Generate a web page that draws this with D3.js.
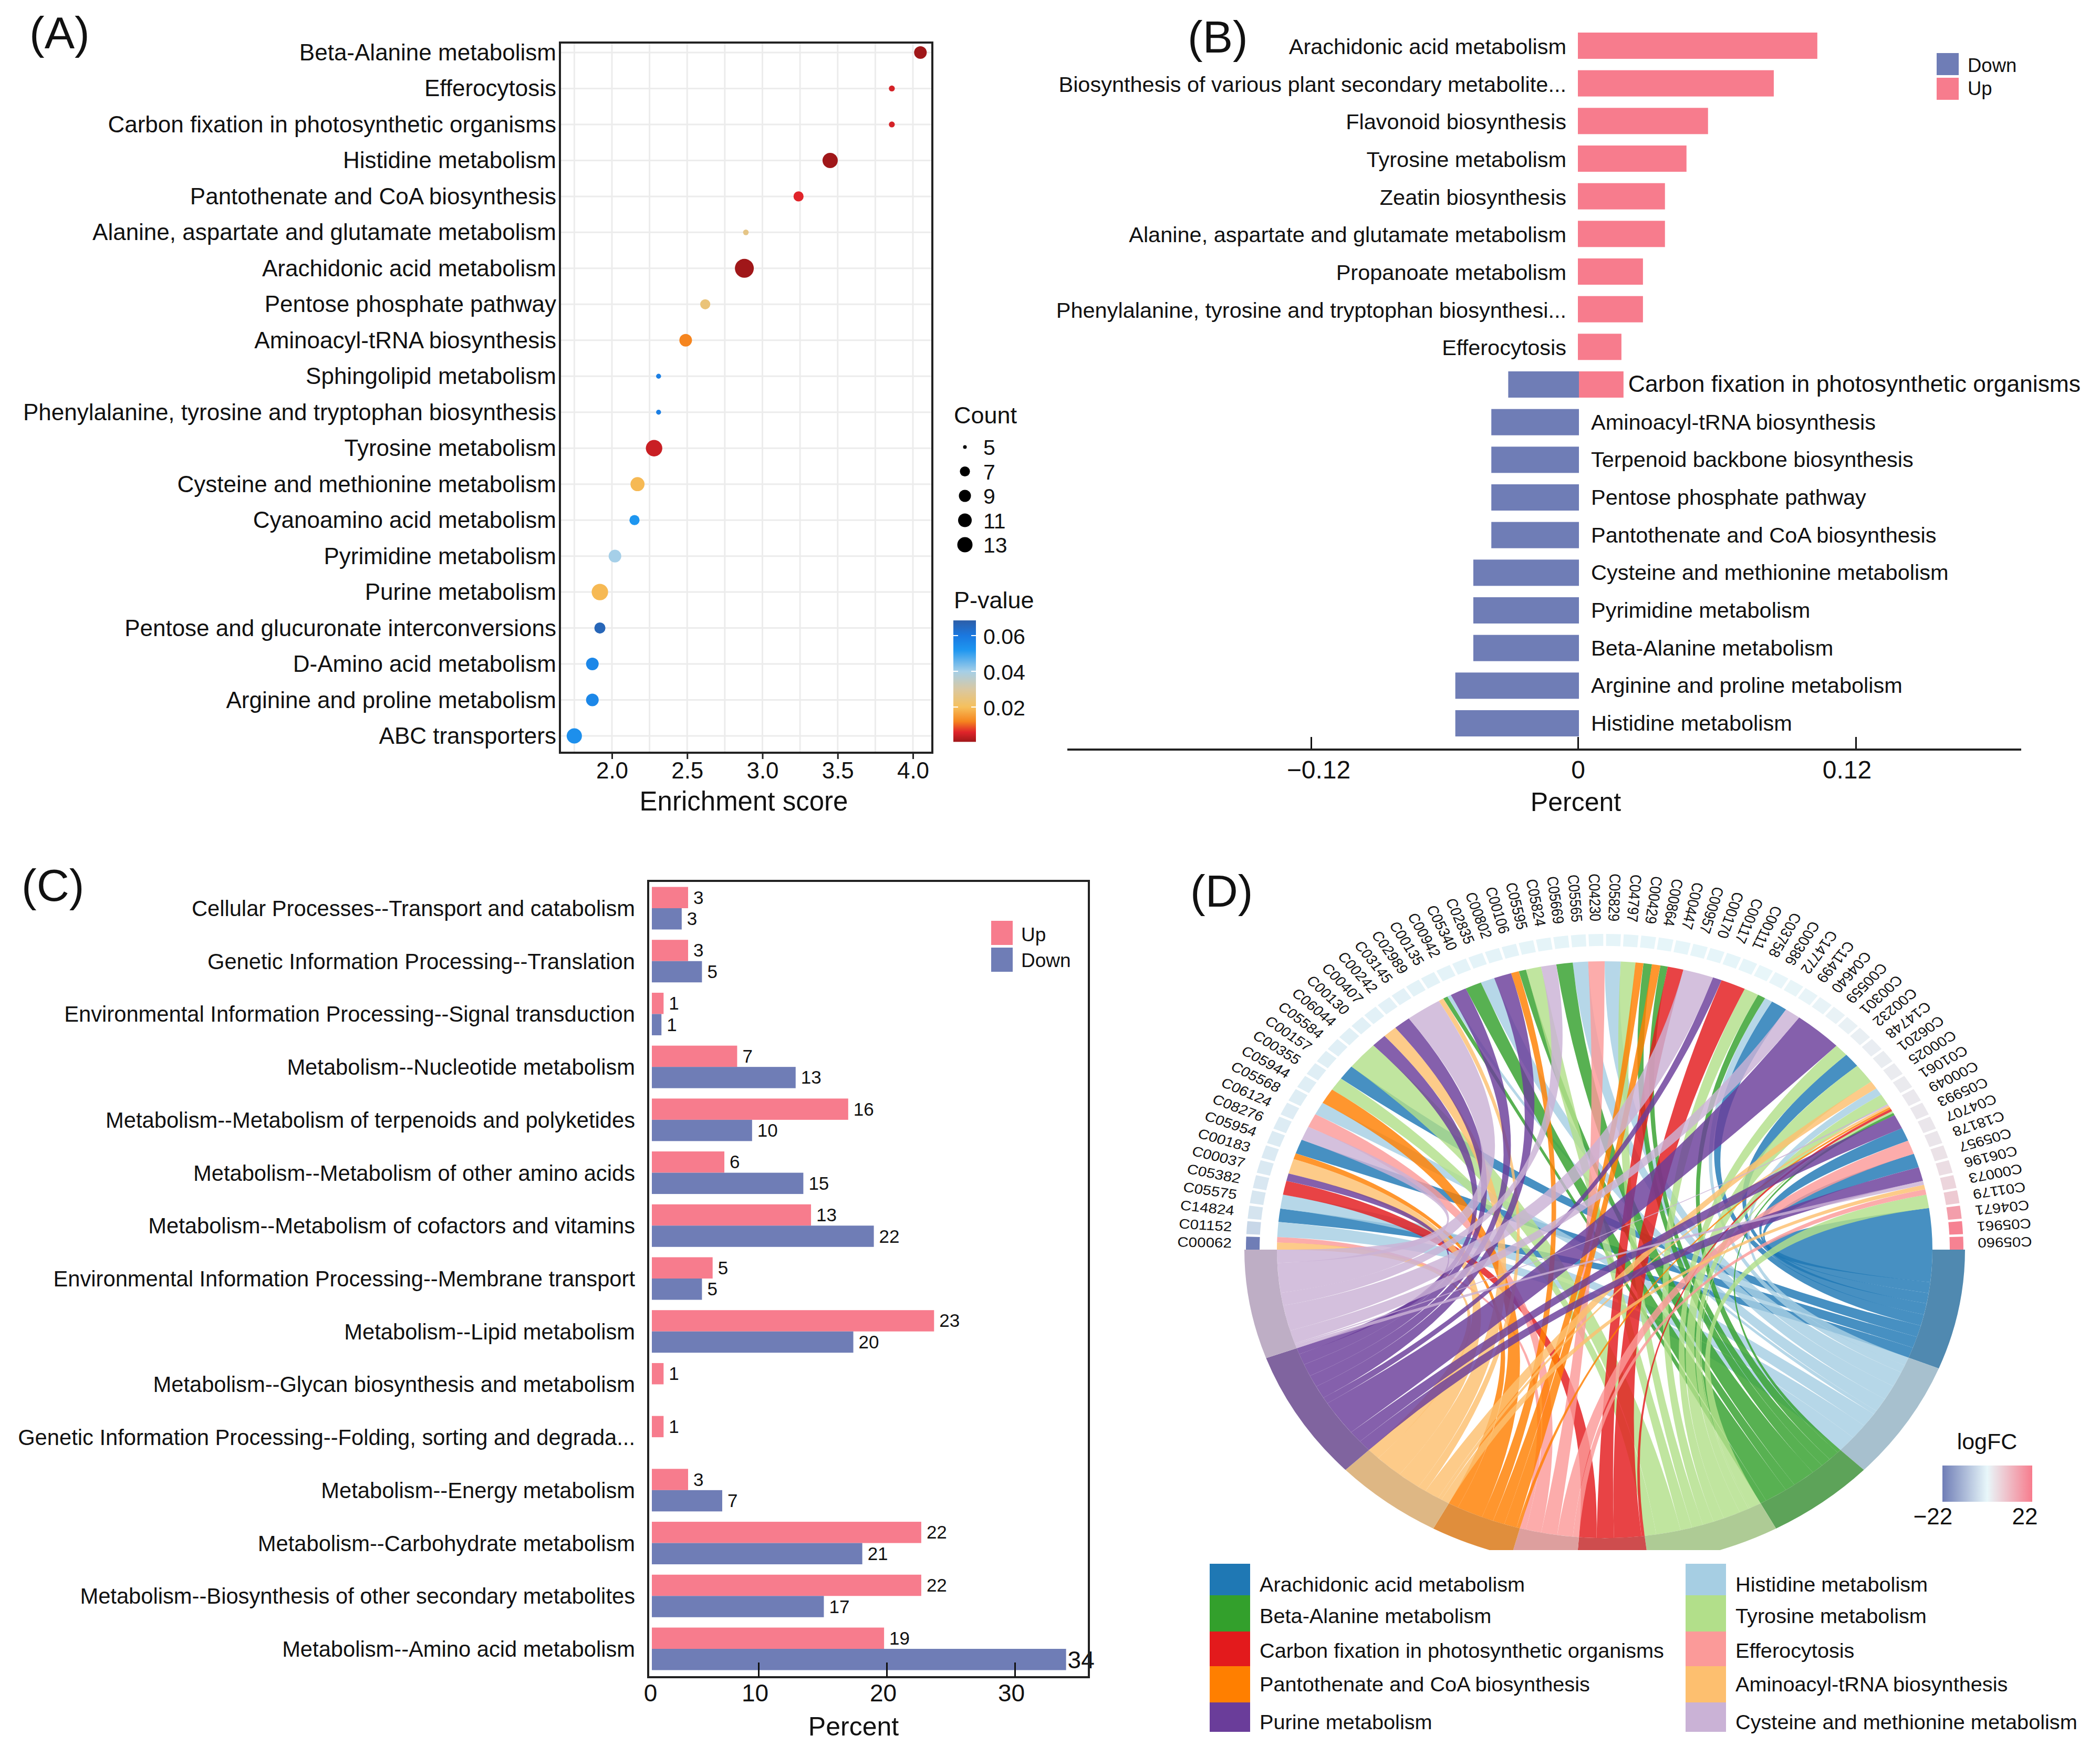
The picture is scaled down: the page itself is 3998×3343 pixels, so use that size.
<!DOCTYPE html>
<html><head><meta charset="utf-8">
<script src="https://cdnjs.cloudflare.com/ajax/libs/d3/7.8.5/d3.min.js"></script>
<style>html,body{margin:0;background:#fff}svg{display:block}text{font-family:"Liberation Sans",Arial,sans-serif;fill:#111}</style>
</head><body><svg id="c" width="3998" height="3343"></svg>
<script>
// ---------- Panel A ----------
const aNames=["Beta-Alanine metabolism","Efferocytosis","Carbon fixation in photosynthetic organisms","Histidine metabolism","Pantothenate and CoA biosynthesis","Alanine, aspartate and glutamate metabolism","Arachidonic acid metabolism","Pentose phosphate pathway","Aminoacyl-tRNA biosynthesis","Sphingolipid metabolism","Phenylalanine, tyrosine and tryptophan biosynthesis","Tyrosine metabolism","Cysteine and methionine metabolism","Cyanoamino acid metabolism","Pyrimidine metabolism","Purine metabolism","Pentose and glucuronate interconversions","D-Amino acid metabolism","Arginine and proline metabolism","ABC transporters"];
const aScore=[4.05,3.86,3.86,3.45,3.24,2.89,2.88,2.62,2.49,2.31,2.31,2.28,2.17,2.15,2.02,1.92,1.92,1.87,1.87,1.75];
const aCount=[9.7,5.7,5.7,13,7,5.6,16,7,9.7,5.4,5.4,14,11.5,7,9.7,14,8,9.7,9.7,13];
const aP=[.0005,.005,.005,.0005,.006,.026,.0005,.024,.012,.058,.058,.004,.019,.052,.04,.019,.066,.056,.056,.054];
const aCountLegend=[5,7,9,11,13];
const aTicks=[2,2.5,3,3.5,4];
const aMinor=[1.75,2.25,2.75,3.25,3.75];
const aPTicks=[.02,.04,.06];
const pStops=[.0005,.006,.012,.02,.03,.04,.052,.06,.0685];
const pColors=["#a01719","#e0242a","#f5851f","#f6c05c","#d9c8a2","#a5cfe8","#1e96f0","#1a78e0","#2d5ea8"];
// ---------- Panel B ----------
const bNames=["Arachidonic acid metabolism","Biosynthesis of various plant secondary metabolite...","Flavonoid biosynthesis","Tyrosine metabolism","Zeatin biosynthesis","Alanine, aspartate and glutamate metabolism","Propanoate metabolism","Phenylalanine, tyrosine and tryptophan biosynthesi...","Efferocytosis","Carbon fixation in photosynthetic organisms","Aminoacyl-tRNA biosynthesis","Terpenoid backbone biosynthesis","Pentose phosphate pathway","Pantothenate and CoA biosynthesis","Cysteine and methionine metabolism","Pyrimidine metabolism","Beta-Alanine metabolism","Arginine and proline metabolism","Histidine metabolism"];
const bUp=[.1034,.0846,.0562,.0469,.0376,.0376,.0281,.0281,.0188,.0197,0,0,0,0,0,0,0,0,0];
const bDown=[0,0,0,0,0,0,0,0,0,.0318,.0394,.0394,.0394,.0394,.0475,.0475,.0475,.0556,.0556];
const bTicks=[-.12,0,.12];
// ---------- Panel C ----------
const cNames=["Cellular Processes--Transport and catabolism","Genetic Information Processing--Translation","Environmental Information Processing--Signal transduction","Metabolism--Nucleotide metabolism","Metabolism--Metabolism of terpenoids and polyketides","Metabolism--Metabolism of other amino acids","Metabolism--Metabolism of cofactors and vitamins","Environmental Information Processing--Membrane transport","Metabolism--Lipid metabolism","Metabolism--Glycan biosynthesis and metabolism","Genetic Information Processing--Folding, sorting and degrada...","Metabolism--Energy metabolism","Metabolism--Carbohydrate metabolism","Metabolism--Biosynthesis of other secondary metabolites","Metabolism--Amino acid metabolism"];
const cUpPct=[3.4,3.4,1.1,8,17,6.8,14.1,5.7,23.7,1.1,1.1,3.4,22.7,22.7,19.8];
const cDownPct=[2.8,4.7,.9,12.9,9.4,13.5,19,4.7,17.4,0,0,6.6,18.1,15.1,34];
const cUpCount=[3,3,1,7,16,6,13,5,23,1,1,3,22,22,19];
const cDownCount=[3,5,1,13,10,15,22,5,20,0,0,7,21,17,34];
const cTicks=[0,10,20,30];
// ---------- Panel D ----------
const dTerms=["Arachidonic acid metabolism","Histidine metabolism","Beta-Alanine metabolism","Tyrosine metabolism","Carbon fixation in photosynthetic organisms","Efferocytosis","Pantothenate and CoA biosynthesis","Aminoacyl-tRNA biosynthesis","Purine metabolism","Cysteine and methionine metabolism"];
const dColors=["#1f78b4","#a6cee3","#33a02c","#b2df8a","#e31a1c","#fb9a99","#ff7f00","#fdbf6f","#6a3d9a","#cab2d6"];
const dTermSpan=[22,22,17.6,21.4,11.5,10.5,13.4,17.6,24,20];
const dCompounds=["C00062","C01152","C14824","C05575","C05382","C00037","C00183","C05954","C08276","C06124","C05568","C05944","C00355","C00157","C05584","C06044","C00130","C00407","C00242","C03145","C02989","C00135","C00942","C05340","C02835","C00802","C00106","C05595","C05824","C05669","C05565","C04230","C05829","C04797","C00429","C00864","C00447","C00957","C00170","C00117","C00111","C03758","C00386","C14772","C11499","C04640","C00559","C00301","C00232","C14748","C06201","C00025","C01061","C00049","C05993","C04707","C18178","C05957","C06196","C00073","C01179","C04671","C05961","C05960"];
const dLogFC=[-22,-5.8,-3.5,-3.1,-2.8,-2.6,-2.4,-2.2,-2,-1.9,-1.8,-1.7,-1.6,-1.5,-1.4,-1.3,-1.2,-1.1,-1,-1,-.9,-.9,-.8,-.8,-.7,-.7,-.7,-.6,-.6,-.6,-.5,-.5,-.5,-.5,-.4,-.4,-.4,-.4,-.3,-.3,-.3,.2,.3,.4,.5,.7,.9,1.1,1.4,1.7,2,2.2,2.4,2.6,2.8,3,3.3,3.8,4.6,6,8,16,21,21];
const dLinkTerm=[7,5,1,0,1,4,8,7,6,0,9,5,1,6,3,0,3,8,7,8,9,7,2,1,8,2,1,8,6,2,3,9,2,1,5,1,3,6,2,6,2,4,9,8,4,3,2,1,0,9,8,3,0,3,7,1,3,9,7,6,4,3,2,8,0,5,0,8,9,7,5,3,0];
const dLinkWidth=[1.4,1.1,3,2.7,2.8,2.8,1.5,3,1.2,2.9,2.8,2.8,2.6,3.1,2.7,3,5.7,2.7,2.5,3,6.3,.9,.8,.7,2.9,2.9,2.5,3.1,1.4,1.3,2.7,2.7,2.9,2.7,2.9,2.8,2.6,1.4,1.5,1.5,1.3,2.8,5.4,1.6,4.4,2.6,1.4,1.4,2.9,2.8,8.6,2.5,2.9,4,1.6,1.5,2.2,.3,.4,.4,.5,.4,.5,2.9,2.7,2.8,2.8,2.8,.8,.9,1.1,2.7,8.3];

const svg=d3.select("#c");
svg.append("rect").attr("width",3998).attr("height",3343).attr("fill","#fff");
function T(g,x,y,s,size,anchor){return g.append("text").attr("x",x).attr("y",y).attr("font-size",size).attr("text-anchor",anchor||"start").text(s);}
const UP="#f77c8d",DOWN="#6f7db6",MINUS="\u2212";
[["(A)",56,92],["(B)",2261,100],["(C)",41,1715],["(D)",2266,1726]].forEach(d=>T(svg,d[1],d[2],d[0],86));

// ===== A =====
(function(){
 const g=svg.append("g"),L=1066,R=1775,Tp=81,B=1433;
 const x=d3.scaleLinear().domain([2,4]).range([1165,1738]);
 const y=d3.scalePoint().domain(aNames).range([100,1401]);
 const col=d3.scaleLinear().domain(pStops).range(pColors);
 const r=d3.scaleLinear().domain([5,7,9,11,13,16]).range([3.5,9.6,11.5,13,14.5,18]);
 aTicks.concat(aMinor).forEach(v=>g.append("line").attr("x1",x(v)).attr("x2",x(v)).attr("y1",Tp).attr("y2",B).attr("stroke","#ececec").attr("stroke-width",3));
 aNames.forEach(n=>g.append("line").attr("x1",L).attr("x2",R).attr("y1",y(n)).attr("y2",y(n)).attr("stroke","#ececec").attr("stroke-width",3));
 aNames.forEach(n=>T(g,1059,y(n)+15,n,44,"end"));
 g.selectAll("circle.d").data(aNames).join("circle").attr("class","d").attr("cx",(d,i)=>x(aScore[i])).attr("cy",d=>y(d)).attr("r",(d,i)=>r(aCount[i])).attr("fill",(d,i)=>col(aP[i]));
 g.append("rect").attr("x",L).attr("y",Tp).attr("width",R-L).attr("height",B-Tp).attr("fill","none").attr("stroke","#222").attr("stroke-width",4);
 const ax=g.append("g").attr("transform",`translate(0,${B})`).call(d3.axisBottom(x).tickValues(aTicks).tickSize(12).tickFormat(d3.format(".1f")));
 ax.select(".domain").remove();ax.selectAll("line").attr("stroke","#222").attr("stroke-width",3);
 ax.selectAll("text").attr("font-size",44).attr("y",49).attr("dy",0);
 T(g,1416,1543,"Enrichment score",51,"middle");
 T(g,1816,806,"Count",45);
 const ly=d3.scalePoint().domain(aCountLegend).range([851,1037]);
 aCountLegend.forEach(c=>{g.append("circle").attr("cx",1837).attr("cy",ly(c)).attr("r",r(c)).attr("fill","#000");T(g,1872,ly(c)+15,c,41);});
 T(g,1816,1158,"P-value",45);
 const py=d3.scaleLinear().domain([.02,.06]).range([1346,1210]);
 const defs=svg.append("defs"),lg=defs.append("linearGradient").attr("id","pg").attr("x1",0).attr("x2",0).attr("y1",1).attr("y2",0);
 pStops.forEach((p,i)=>lg.append("stop").attr("offset",(p-pStops[0])/(pStops[8]-pStops[0])).attr("stop-color",pColors[i]));
 g.append("rect").attr("x",1815).attr("y",py(.0685)).attr("width",43).attr("height",py(.0005)-py(.0685)).attr("fill","url(#pg)");
 aPTicks.forEach(p=>{[[1815,1824],[1849,1858]].forEach(s=>g.append("line").attr("x1",s[0]).attr("x2",s[1]).attr("y1",py(p)).attr("y2",py(p)).attr("stroke","#fff").attr("stroke-width",2));T(g,1872,py(p)+16,p.toFixed(2),41);});
})();

// ===== B =====
(function(){
 const g=svg.append("g"),ay=1427;
 const x=d3.scaleLinear().domain(bTicks).range([2496,3004,3533]);
 const y=d3.scalePoint().domain(bNames).range([87,1377]);
 const h=50;
 g.selectAll("rect.u").data(bNames).join("rect").attr("class","u").attr("x",x(0)).attr("y",d=>y(d)-h/2).attr("height",h).attr("width",(d,i)=>x(bUp[i])-x(0)).attr("fill",UP);
 g.selectAll("rect.v").data(bNames).join("rect").attr("class","v").attr("x",(d,i)=>x(-bDown[i])+2).attr("y",d=>y(d)-h/2).attr("height",h).attr("width",(d,i)=>x(0)-x(-bDown[i])).attr("fill",DOWN);
 bNames.forEach((n,i)=>{
  if(bUp[i]>0&&bDown[i]>0) T(g,x(bUp[i])+9,y(n)+14,n,44.4);
  else if(bUp[i]>0) T(g,2982,y(n)+16,n,41.5,"end");
  else T(g,3029,y(n)+14,n,41.5);
 });
 const ax=g.append("g").attr("transform",`translate(0,${ay})`).call(d3.axisBottom(x).tickValues(bTicks).tickSize(-24).tickFormat(d=>d===0?"0":(d<0?MINUS:"")+Math.abs(d).toFixed(2)));
 ax.select(".domain").remove();
 ax.selectAll("line").attr("stroke","#111").attr("stroke-width",3);
 ax.selectAll("text").attr("font-size",48).attr("y",55).attr("dy",0).attr("dx",d=>d<0?14:d>0?-17:0);
 g.append("line").attr("x1",2032).attr("x2",3848).attr("y1",ay).attr("y2",ay).attr("stroke","#222").attr("stroke-width",4);
 T(g,3000,1544,"Percent",50,"middle");
 g.append("rect").attr("x",3687).attr("y",101).attr("width",42).attr("height",42).attr("fill",DOWN);
 g.append("rect").attr("x",3687).attr("y",148).attr("width",42).attr("height",42).attr("fill",UP);
 T(g,3746,137,"Down",36.5);T(g,3746,181,"Up",36.5);
})();

// ===== C =====
(function(){
 const g=svg.append("g"),L=1234,R=2073,Tp=1677,B=3193;
 const x=d3.scaleLinear().domain(cTicks).range([1241,1444,1688,1932]);
 const y=d3.scalePoint().domain(cNames).range([1729,3139]);
 const h=40.5;
 g.selectAll("rect.u").data(cNames).join("rect").attr("class","u").attr("x",x(0)).attr("y",d=>y(d)-h).attr("height",h).attr("width",(d,i)=>x(cUpPct[i])-x(0)).attr("fill",UP);
 g.selectAll("rect.v").data(cNames).join("rect").attr("class","v").attr("x",x(0)).attr("y",d=>y(d)).attr("height",h).attr("width",(d,i)=>x(cDownPct[i])-x(0)).attr("fill",DOWN);
 cNames.forEach((n,i)=>{
  T(g,1209,y(n)+15,n,41.7,"end");
  T(g,x(cUpPct[i])+10,y(n)-h/2+12,cUpCount[i],35);
  if(cDownCount[i]>0){
   const over=x(cDownPct[i])+50>R;
   T(g,x(cDownPct[i])+(over?3:10),y(n)+h/2+(over?17:12),cDownCount[i],over?46:35);
  }
 });
 g.append("rect").attr("x",L).attr("y",Tp).attr("width",R-L).attr("height",B-Tp).attr("fill","none").attr("stroke","#222").attr("stroke-width",4);
 const ax=g.append("g").attr("transform",`translate(0,${B})`).call(d3.axisBottom(x).tickValues(cTicks).tickSize(-28).tickFormat(d3.format("d")));
 ax.select(".domain").remove();
 ax.selectAll("line").attr("stroke","#111").attr("stroke-width",3).filter(d=>d===0).remove();
 ax.selectAll("text").attr("font-size",46).attr("y",46).attr("dy",0).attr("dx",d=>d===0?-3:-7);
 T(g,1625,3304,"Percent",50,"middle");
 g.append("rect").attr("x",1887).attr("y",1753).attr("width",41).attr("height",46).attr("fill",UP);
 g.append("rect").attr("x",1887).attr("y",1804).attr("width",41).attr("height",46).attr("fill",DOWN);
 T(g,1944,1792,"Up",37);T(g,1944,1841,"Down",37);
})();

// ===== D =====
(function(){
 const cx=3055,cy=2379,k=.88,rIn=624,rOut=686,rs0=657,rs1=683,rLab=762,rad=Math.PI/180;
 const defs=svg.select("defs");
 defs.append("clipPath").attr("id","dclip").append("rect").attr("x",2200).attr("y",1600).attr("width",1798).attr("height",1351);
 const outer=svg.append("g").attr("clip-path","url(#dclip)");
 const g=outer.append("g").attr("transform",`translate(${cx},${cy}) scale(1,${k})`);
 const fc=d3.scaleLinear().domain([-22,0,22]).range([DOWN,"#e8f7fa",UP]);
 // compound sectors on the upper half
 const cs=d3.scaleBand().domain(dCompounds).range([270,450]).paddingInner(.16);
 const arc=d3.arc();
 dCompounds.forEach((c,i)=>{
  const a0=cs(c)*rad,a1=(cs(c)+cs.bandwidth())*rad,mid=(cs(c)+cs.bandwidth()/2);
  g.append("path").attr("d",arc({innerRadius:rs0,outerRadius:rs1,startAngle:a0,endAngle:a1})).attr("fill",fc(dLogFC[i]));
  g.append("text").attr("font-size",29.5).attr("text-anchor","middle").attr("dy","0.35em").attr("transform",`rotate(${mid-90}) translate(${rLab},0) rotate(180)`).text(c);
 });
 // term sectors on the lower half
 let a=90;const termStart=[];
 dTermSpan.forEach((s,i)=>{termStart.push(a);a+=s;});
 // ribbons
 let u=270;const links=dLinkTerm.map((t,i)=>{const o={t,a0:u,a1:u+dLinkWidth[i]};u+=dLinkWidth[i];return o;});
 dTerms.forEach((n,t)=>{
  const mine=links.filter(l=>l.t===t).sort((p,q)=>q.a0-p.a0);
  const tot=d3.sum(mine,l=>l.a1-l.a0),f=dTermSpan[t]/tot;let b=termStart[t];
  mine.forEach(l=>{l.b0=b;b+=(l.a1-l.a0)*f;l.b1=b;});
 });
 const rb=d3.ribbon().radius(rIn);
 d3.range(10).forEach(t=>{links.filter(l=>l.t===t).forEach(l=>{
  g.append("path").attr("d",rb({source:{startAngle:l.a0*rad,endAngle:l.a1*rad},target:{startAngle:l.b0*rad,endAngle:l.b1*rad}})).attr("fill",dColors[t]).attr("fill-opacity",.82);
 });});
 dTerms.forEach((n,t)=>{
  g.append("path").attr("d",arc({innerRadius:rIn,outerRadius:rOut,startAngle:termStart[t]*rad,endAngle:(termStart[t]+dTermSpan[t])*rad})).attr("fill",d3.interpolateRgb(dColors[t],"#a8a8a8")(.36));
 });
 // term legend
 const lg=svg.append("g");
 const ey=[2977,3037,3106,3172,3241,3297],base=[3030,3090,3156,3220,3292];
 const left=[0,2,4,6,8],right=[1,3,5,7,9];
 [[left,2303,2398],[right,3209,3304]].forEach(col=>col[0].forEach((t,i)=>{
  lg.append("rect").attr("x",col[1]).attr("y",ey[i]).attr("width",col[2]-col[1]-18).attr("height",ey[i+1]-ey[i]).attr("fill",dColors[t]);
  T(lg,col[2],base[i],dTerms[t],39.7);
 }));
 // logFC legend
 const gr=defs.append("linearGradient").attr("id","fcg");
 [-22,0,22].forEach(v=>gr.append("stop").attr("offset",(v+22)/44).attr("stop-color",fc(v)));
 lg.append("rect").attr("x",3698).attr("y",2790).attr("width",171).attr("height",69).attr("fill","url(#fcg)");
 T(lg,3783,2759,"logFC",43,"middle");
 T(lg,3680,2902,MINUS+"22",44,"middle");T(lg,3855,2902,"22",44,"middle");
})();
</script></body></html>
